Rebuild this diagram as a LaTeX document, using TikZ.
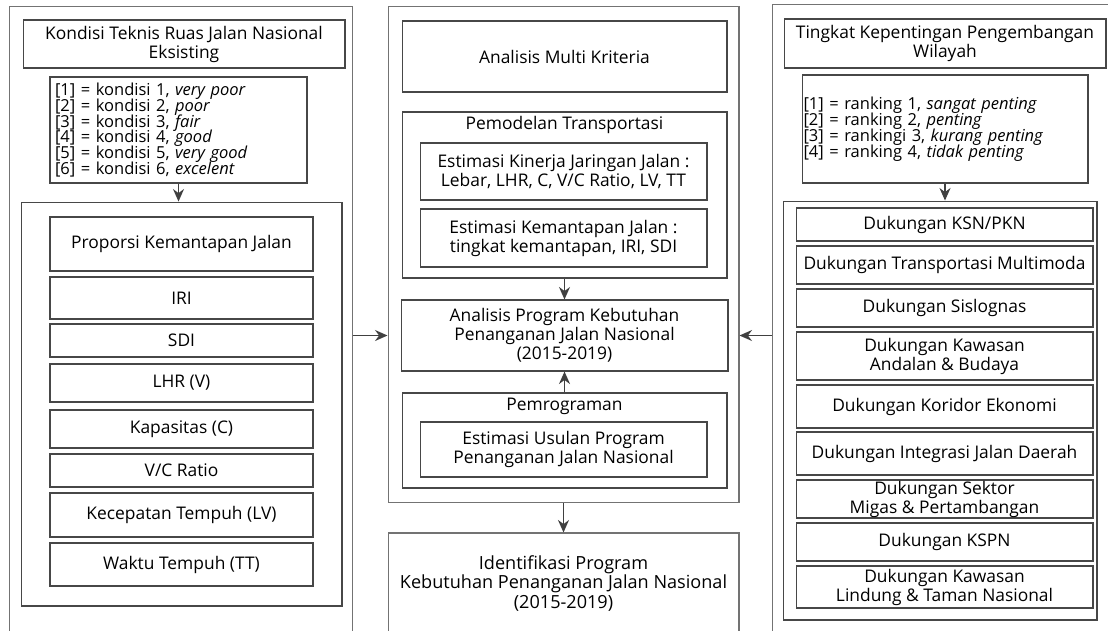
\documentclass[tikz,border=0pt]{standalone}
\usepackage{fontspec}
\setmainfont{Open Sans}
\usetikzlibrary{arrows.meta,shadows}

\newcommand{\legendfont}{\fontsize{9.4}{9.0}\selectfont\lineskiplimit=-5pt\relax}

\tikzset{
  box/.style = {draw = black!72, fill = white, line width = 0.6pt, inner sep = 0pt,
                align = center, drop shadow = {shadow xshift = 0.6pt, shadow yshift = -0.6pt, fill = black!18}},
  outer/.style = {draw = black!55, fill = white, line width = 0.6pt, inner sep = 0pt, align = center},
  legend/.style = {box, align = left, font = \legendfont},
  arr/.style = {-{Stealth[length = 2.5mm, width = 2.2mm]}, draw = black!75, line width = 0.9pt}
}

\begin{document}
\begin{tikzpicture}[x = 0.02cm, y = -0.02cm, font = \fontsize{9.9}{10.8}\selectfont]
    \useasboundingbox (0, 0) rectangle (1108, 630);
    \clip (0, 0) rectangle (1108, 630);
    % left column
    \node [outer, minimum width = 6.88cm, minimum height = 12.58cm] (Lout) at (181, 320.5) {};
    \node [box, minimum width = 6.44cm, minimum height = 0.96cm] (Ltitle) at (184, 44) {Kondisi Teknis Ruas Jalan Nasional\\Eksisting};
    \node [legend, minimum width = 5.14cm, minimum height = 2.12cm, text width = 4.94cm] (Lleg) at (178.5, 130)
        {{[1]} = kondisi 1, \textit{very poor}\\{[2]} = kondisi 2, \textit{poor}\\{[3]} = kondisi 3, \textit{fair}\\
         {[4]} = kondisi 4, \textit{good}\\{[5]} = kondisi 5, \textit{very good}\\{[6]} = kondisi 6, \textit{excelent}};
    \node [box, minimum width = 6.42cm, minimum height = 8.08cm] (Lcont) at (181.5, 404) {};
    \node [box, minimum width = 5.26cm, minimum height = 1.08cm] (Lprop) at (181.5, 244) {Proporsi Kemantapan Jalan};
    \node [box, minimum width = 5.26cm, minimum height = 0.84cm] (Liri) at (181.5, 298) {IRI};
    \node [box, minimum width = 5.26cm, minimum height = 0.66cm] (Lsdi) at (181.5, 340.5) {SDI};
    \node [box, minimum width = 5.26cm, minimum height = 0.76cm] (Llhr) at (181.5, 383) {LHR (V)};
    \node [box, minimum width = 5.26cm, minimum height = 0.76cm] (Lkap) at (181.5, 429) {Kapasitas (C)};
    \node [box, minimum width = 5.26cm, minimum height = 0.66cm] (Lvc) at (181.5, 470.5) {V/C Ratio};
    \node [box, minimum width = 5.26cm, minimum height = 0.88cm] (Llv) at (181.5, 515) {Kecepatan Tempuh (LV)};
    \node [box, minimum width = 5.26cm, minimum height = 0.86cm] (Ltt) at (181.5, 564.5) {Waktu Tempuh (TT)};
    \draw [arr] (Lleg.south) -- (Lleg.south |- Lcont.north);
    % middle column
    \node [outer, minimum width = 7.02cm, minimum height = 9.94cm] (Mout) at (563.5, 254.5) {};
    \node [box, minimum width = 6.5cm, minimum height = 1.42cm] (Mmulti) at (564.5, 56.5) {Analisis Multi Kriteria};
    \node [box, minimum width = 6.5cm, minimum height = 3.32cm] (Mmodel) at (564.5, 195) {};
    \node (MmodelT) at (564.5, 125) {Pemodelan Transportasi};
    \node [box, minimum width = 5.74cm, minimum height = 1.14cm] (Mkin) at (563.5, 171.5) {Estimasi Kinerja Jaringan Jalan :\\Lebar, LHR, C, V/C Ratio, LV, TT};
    \node [box, minimum width = 5.74cm, minimum height = 1.16cm] (Mkem) at (563.5, 238) {Estimasi Kemantapan Jalan :\\tingkat kemantapan, IRI, SDI};
    \node [box, minimum width = 6.54cm, minimum height = 1.42cm] (Mprog) at (564.5, 335.5) {Analisis Program Kebutuhan\\Penanganan Jalan Nasional\\(2015-2019)};
    \node [box, minimum width = 6.5cm, minimum height = 1.9cm] (Mpgr) at (564.5, 440.5) {};
    \node (MpgrT) at (564.5, 406) {Pemrograman};
    \node [box, minimum width = 5.74cm, minimum height = 1.1cm] (Musul) at (563.5, 449.5) {Estimasi Usulan Program\\Penanganan Jalan Nasional};
    \node [outer, minimum width = 7.02cm, minimum height = 2.0cm, font = \fontsize{10.3}{11.1}\selectfont] (Mid) at (563.5, 583)
        {Identifikasi Program\\Kebutuhan Penanganan Jalan Nasional\\(2015-2019)};
    \draw [arr] (Mmodel.south -| Mprog.north) -- (Mprog.north);
    \draw [arr] (Mpgr.north) -- (Mprog.south);
    \draw [arr] (Mout.south) -- (Mid.north);
    % right column
    \node [outer, minimum width = 6.8cm, minimum height = 12.72cm] (Rout) at (942, 322) {};
    \node [box, minimum width = 6.44cm, minimum height = 0.98cm] (Rtitle) at (945, 43.5) {Tingkat Kepentingan Pengembangan\\Wilayah};
    \node [legend, minimum width = 5.72cm, minimum height = 2.16cm, text width = 5.66cm] (Rleg) at (945, 129)
        {{[1]} = ranking 1, \textit{sangat penting}\\{[2]} = ranking 2, \textit{penting}\\
         {[3]} = rankingi 3, \textit{kurang penting}\\{[4]} = ranking 4, \textit{tidak penting}};
    \node [box, minimum width = 6.28cm, minimum height = 8.38cm] (Rcont) at (940, 410.5) {};
    \node [box, minimum width = 5.94cm, minimum height = 0.66cm] (Rksn) at (944.5, 224.5) {Dukungan KSN/PKN};
    \node [box, minimum width = 5.94cm, minimum height = 0.76cm] (Rmulti) at (944.5, 265) {Dukungan Transportasi Multimoda};
    \node [box, minimum width = 5.94cm, minimum height = 0.76cm] (Rsis) at (944.5, 308) {Dukungan Sislognas};
    \node [box, minimum width = 5.94cm, minimum height = 0.96cm] (Rand) at (944.5, 356) {Dukungan Kawasan\\Andalan \& Budaya};
    \node [box, minimum width = 5.94cm, minimum height = 0.86cm] (Rkor) at (944.5, 406.5) {Dukungan Koridor Ekonomi};
    \node [box, minimum width = 5.94cm, minimum height = 0.86cm] (Rint) at (944.5, 453.5) {Dukungan Integrasi Jalan Daerah};
    \node [box, minimum width = 5.94cm, minimum height = 0.76cm] (Rmig) at (944.5, 499) {Dukungan Sektor\\Migas \& Pertambangan};
    \node [box, minimum width = 5.94cm, minimum height = 0.76cm] (Rkspn) at (944.5, 542) {Dukungan KSPN};
    \node [box, minimum width = 5.94cm, minimum height = 0.84cm] (Rlin) at (944.5, 587) {Dukungan Kawasan\\Lindung \& Taman Nasional};
    \draw [arr] (Rleg.south) -- (Rleg.south |- Rcont.north);
    % into the middle
    \draw [arr] (Lout.east |- Mprog.west) -- (Mout.west |- Mprog.west);
    \draw [arr] (Rout.west |- Mprog.east) -- (Mout.east |- Mprog.east);
\end{tikzpicture}
\end{document}
